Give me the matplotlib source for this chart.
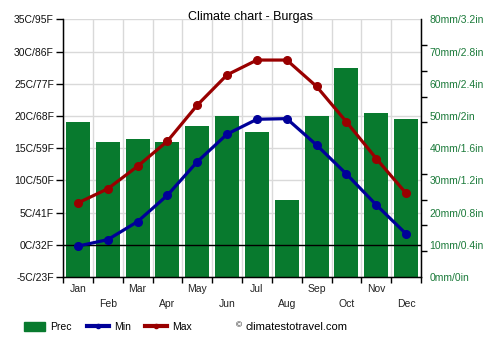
import matplotlib
matplotlib.use("Agg")
import matplotlib.pyplot as plt
import numpy as np
from matplotlib.lines import Line2D
from matplotlib.patches import Patch

months = ["Jan", "Feb", "Mar", "Apr", "May", "Jun", "Jul", "Aug", "Sep", "Oct", "Nov", "Dec"]
prec = [48, 42, 43, 42, 47, 50, 45, 24, 50, 65, 51, 49]
tmin = [-0.2, 0.8, 3.6, 7.7, 12.9, 17.2, 19.5, 19.6, 15.5, 11.0, 6.2, 1.7]
tmax = [6.5, 8.7, 12.2, 16.1, 21.7, 26.4, 28.7, 28.7, 24.6, 19.1, 13.4, 8.0]
temp_labels = ["-5C/23F", "0C/32F", "5C/41F", "10C/50F", "15C/59F", "20C/68F",
               "25C/77F", "30C/86F", "35C/95F"]
prec_labels = ["0mm/0in", "10mm/0.4in", "20mm/0.8in", "30mm/1.2in", "40mm/1.6in",
               "50mm/2in", "60mm/2.4in", "70mm/2.8in", "80mm/3.2in"]

plt.rcParams['font.family'] = ['Liberation Sans', 'DejaVu Sans']

GREEN = "#087a2e"
BLUE = "#000099"
RED = "#990000"
LABEL_GREEN = "#1b7a3a"

fig = plt.figure(figsize=(5, 3.5), dpi=100)
axp = fig.add_axes([0.126, 0.2086, 0.716, 0.7357])
axt = axp.twinx()
x = np.arange(12)

# precipitation bars (right axis)
axp.set_axisbelow(True)
axp.bar(x, prec, width=0.8, color=GREEN, zorder=2)
axp.set_xlim(-0.5, 11.5)
axp.set_ylim(0, 80)
axp.yaxis.set_ticks_position('right')
axp.yaxis.set_label_position('right')
axp.set_yticks(np.arange(0, 81, 10))
axp.set_yticklabels(prec_labels, color=LABEL_GREEN, fontsize=7.5)
axp.tick_params(axis='y', which='major', length=0, pad=6, left=False, labelleft=False,
                right=True, labelright=True)
axp.set_yticks(np.arange(0, 81, 8), minor=True)
axp.tick_params(axis='y', which='minor', length=4, width=1, color='black', right=True, left=False)
axp.grid(axis='y', color='#d9d9d9', linewidth=1, zorder=0)

# x axis
axp.set_xticks(np.arange(-0.5, 12, 1))
axp.set_xticklabels([])
axp.tick_params(axis='x', which='major', length=4.5, width=1)
axp.grid(axis='x', color='#d9d9d9', linewidth=1, zorder=0)
for i, m in enumerate(months):
    yoff = -0.045 if i % 2 == 0 else -0.105
    axp.text(i, yoff, m, transform=axp.get_xaxis_transform(), ha='center', va='center',
             fontsize=7.5, color='#222222')

axp.spines['top'].set_visible(False)
for s in ['left', 'right', 'bottom']:
    axp.spines[s].set_color('black')
    axp.spines[s].set_linewidth(1)

# temperature axis (left)
axt.yaxis.set_ticks_position('left')
axt.yaxis.set_label_position('left')
axt.set_ylim(-5, 35)
axt.set_yticks(np.arange(-5, 36, 5))
axt.set_yticklabels(temp_labels, fontsize=7.5, color='#111111')
axt.tick_params(axis='y', length=5, width=1, pad=1.5, left=True, labelleft=True,
                right=False, labelright=False)
axt.spines['top'].set_visible(False)
axt.axhline(0, color='black', linewidth=1, zorder=3)
axt.plot(x, tmin, color=BLUE, linewidth=2.3, marker='o', markersize=5.5, zorder=4)
axt.plot(x, tmax, color=RED, linewidth=2.3, marker='o', markersize=5.5, zorder=4)

fig.text(0.5, 0.951, "Climate chart - Burgas", ha='center', va='center', fontsize=9)

handles = [Patch(facecolor=GREEN, edgecolor=GREEN),
           Line2D([0], [0], color=BLUE, linewidth=3, marker='o', markersize=3),
           Line2D([0], [0], color=RED, linewidth=3, marker='o', markersize=3)]
fig.legend(handles, ["Prec", "Min", "Max"], loc='center left', bbox_to_anchor=(0.047, 0.066),
           ncol=3, frameon=False, fontsize=7.5, handlelength=2.1, handleheight=1.0,
           columnspacing=1.4, handletextpad=0.5, borderpad=0, borderaxespad=0)
fig.text(0.472, 0.07, "\u00a9", ha='left', va='center', fontsize=6)
fig.text(0.492, 0.066, "climatestotravel.com", ha='left', va='center', fontsize=8)

fig.savefig("out.png", dpi=100)
